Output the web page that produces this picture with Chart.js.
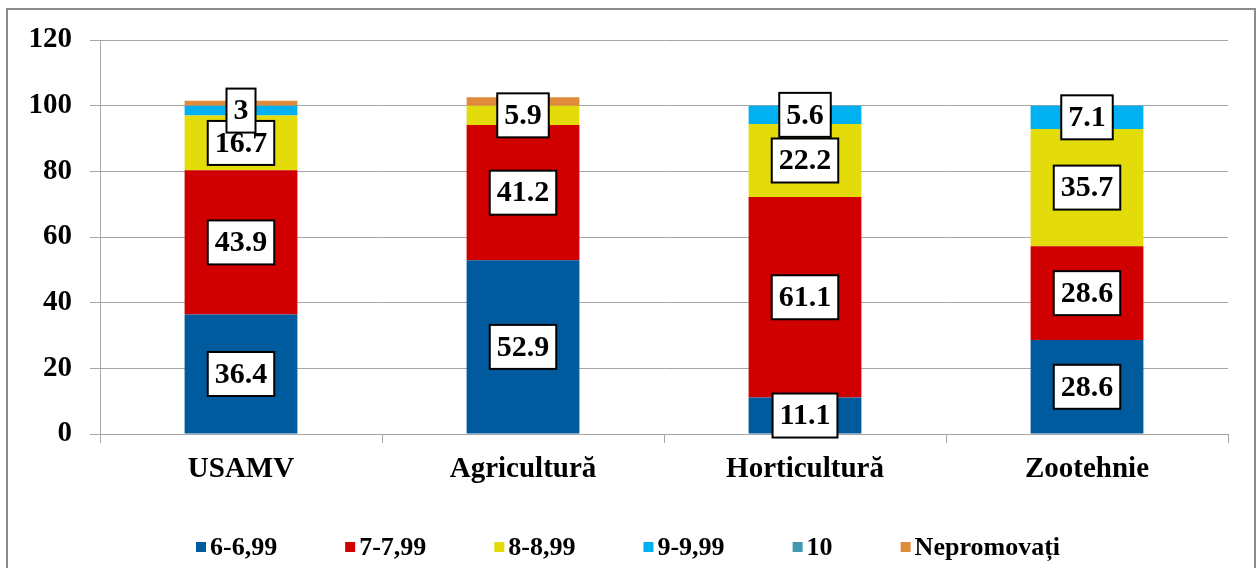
<!DOCTYPE html>
<html lang="ro">
<head>
    <meta charset="UTF-8">
    <title>Medii USAMV</title>
    <script src="https://cdn.jsdelivr.net/npm/chart.js"></script>
    <style>
        body { margin: 0; background: #fff; }
        #wrap { width: 1256px; height: 568px; }
    </style>
</head>
<body>
    <div id="wrap">
        <canvas id="gradesChart" width="1256" height="568"></canvas>
    </div>

    <script>
        const categories = ['USAMV', 'Agricultură', 'Horticultură', 'Zootehnie'];
        const seriesNames = ['6-6,99', '7-7,99', '8-8,99', '9-9,99', '10', 'Nepromovați'];
        const grade6 = [36.4, 52.9, 11.1, 28.6];
        const grade7 = [43.9, 41.2, 61.1, 28.6];
        const grade8 = [16.7, 5.9, 22.2, 35.7];
        const grade9 = [3, 0, 5.6, 7.1];
        const grade10 = [0, 0, 0, 0];
        const nepromovati = [1.5, 2.6, 0, 0];
        const yTicks = [0, 20, 40, 60, 80, 100, 120];

        const colors = ['#005A9E', '#D00000', '#E3DB0A', '#00B0F0', '#4198AF', '#E08A3C'];
        const labelled = [true, true, true, true, true, false];
        const serif = '"Liberation Serif", "Times New Roman", serif';

        const allSeries = [grade6, grade7, grade8, grade9, grade10, nepromovati];

        // white boxed value labels, like the Excel data labels
        const boxLabels = {
            id: 'boxLabels',
            afterDatasetsDraw(chart) {
                const ctx = chart.ctx;
                ctx.save();
                ctx.font = 'bold 30px ' + serif;
                ctx.textAlign = 'center';
                ctx.textBaseline = 'middle';
                chart.data.datasets.forEach((ds, i) => {
                    if (!labelled[i]) return;
                    chart.getDatasetMeta(i).data.forEach((bar, j) => {
                        const v = ds.data[j];
                        if (!v) return;
                        const text = String(v);
                        const w = ctx.measureText(text).width + 14;
                        const h = 44;
                        const cx = bar.x;
                        const cy = (bar.y + bar.base) / 2;
                        ctx.fillStyle = '#fff';
                        ctx.fillRect(cx - w / 2, cy - h / 2, w, h);
                        ctx.lineWidth = 2;
                        ctx.strokeStyle = '#000';
                        ctx.strokeRect(cx - w / 2, cy - h / 2, w, h);
                        ctx.fillStyle = '#000';
                        ctx.fillText(text, cx, cy + 1);
                    });
                });
                ctx.restore();
            }
        };

        // outer frame and bottom legend
        const frameAndLegend = {
            id: 'frameAndLegend',
            beforeDraw(chart) {
                const ctx = chart.ctx;
                ctx.save();
                ctx.strokeStyle = '#8C8C8C';
                ctx.lineWidth = 2;
                ctx.strokeRect(7, 9, chart.width - 8, chart.height + 20);
                ctx.restore();
            },
            afterDraw(chart) {
                const ctx = chart.ctx;
                ctx.save();
                ctx.font = 'bold 26px ' + serif;
                ctx.textBaseline = 'middle';
                const box = 10, gap = 4, spacing = 68;
                const widths = seriesNames.map(n => box + gap + ctx.measureText(n).width);
                const total = widths.reduce((a, b) => a + b, 0) + spacing * (widths.length - 1);
                let x = chart.width / 2 - total / 2;
                const y = 547;
                seriesNames.forEach((n, i) => {
                    ctx.fillStyle = colors[i];
                    ctx.fillRect(x, y - box / 2, box, box);
                    ctx.fillStyle = '#000';
                    ctx.fillText(n, x + box + gap, y + 1);
                    x += widths[i] + spacing;
                });
                ctx.restore();
            }
        };

        new Chart(document.getElementById('gradesChart'), {
            type: 'bar',
            data: {
                labels: categories,
                datasets: seriesNames.map((name, i) => ({
                    label: name,
                    data: allSeries[i],
                    backgroundColor: colors[i],
                    borderWidth: 0,
                    barPercentage: 0.4,
                    categoryPercentage: 1
                }))
            },
            options: {
                responsive: false,
                animation: false,
                layout: { padding: { left: 8, right: 28, top: 40, bottom: 74 } },
                scales: {
                    x: {
                        stacked: true,
                        grid: {
                            offset: true,
                            drawOnChartArea: false,
                            drawTicks: true,
                            tickLength: 9,
                            color: '#A6A6A6'
                        },
                        border: { color: '#A6A6A6' },
                        ticks: {
                            color: '#000',
                            padding: 9,
                            font: { family: serif, size: 29, weight: 'bold' }
                        },
                        afterFit(scale) { scale.height = 60; }
                    },
                    y: {
                        stacked: true,
                        min: 0,
                        max: 120,
                        afterBuildTicks(scale) { scale.ticks = yTicks.map(v => ({ value: v })); },
                        grid: { color: '#A6A6A6', tickLength: 10 },
                        border: { color: '#A6A6A6' },
                        ticks: {
                            color: '#000',
                            padding: 18,
                            font: { family: serif, size: 29, weight: 'bold' }
                        },
                        afterFit(scale) { scale.width = 92; }
                    }
                },
                plugins: {
                    legend: { display: false },
                    tooltip: { enabled: false }
                }
            },
            plugins: [frameAndLegend, boxLabels]
        });
    </script>
</body>
</html>
